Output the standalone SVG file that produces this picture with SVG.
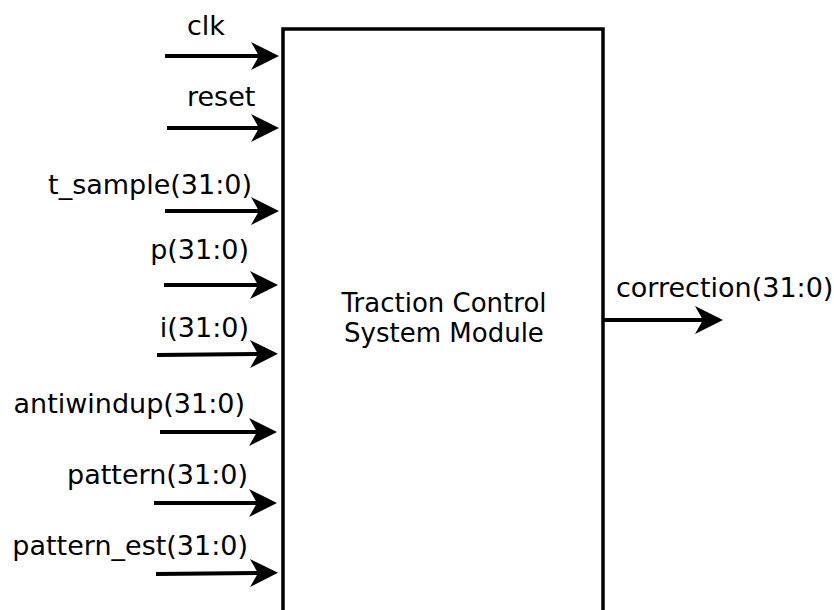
<svg xmlns="http://www.w3.org/2000/svg" width="834" height="610" viewBox="0 0 834 610">
  <style>
    .lbl { font-family: "DejaVu Sans", "Liberation Sans", sans-serif; font-size: 27px; fill: #000; }
    .title { font-family: "DejaVu Sans", "Liberation Sans", sans-serif; font-size: 26px; fill: #000; text-anchor: middle; }
    .wire { stroke: #000; stroke-width: 4; fill: none; marker-end: url(#head); }
    .box { fill: #fff; stroke: #000; stroke-width: 3.5; }
  </style>
  <defs>
    <!-- notched arrowhead; reference point sits on the notch so the wire ends there -->
    <marker id="head" markerUnits="userSpaceOnUse" markerWidth="30" markerHeight="30" refX="8" refY="14" orient="auto" overflow="visible">
      <path d="M0,0 L28,14 L0,28 L8,14 Z" fill="#000"/>
    </marker>
  </defs>
  <rect width="834" height="610" fill="#fff"/>

  <g id="module">
    <rect class="box" x="283" y="29" width="320" height="600"/>
    <text class="title" x="444" y="312">Traction Control</text>
    <text class="title" x="444" y="342">System Module</text>
  </g>

  <g id="connectors">
    <line class="wire" x1="165" y1="56" x2="259" y2="56"/>
    <line class="wire" x1="167" y1="128" x2="259" y2="128"/>
    <line class="wire" x1="165" y1="211" x2="259" y2="211"/>
    <line class="wire" x1="164" y1="285" x2="258" y2="285"/>
    <line class="wire" x1="157" y1="355" x2="258" y2="354"/>
    <line class="wire" x1="160" y1="432" x2="257" y2="432"/>
    <line class="wire" x1="154" y1="503" x2="257" y2="503"/>
    <line class="wire" x1="156" y1="574" x2="258" y2="573"/>
    <line class="wire" x1="603" y1="320" x2="703" y2="320"/>
  </g>

  <g id="port-clk"><text class="lbl" x="187" y="35">clk</text></g>
  <g id="port-reset"><text class="lbl" x="187" y="106">reset</text></g>
  <g id="port-t_sample"><text class="lbl" x="252" y="194" text-anchor="end">t_sample(31:0)</text></g>
  <g id="port-p"><text class="lbl" x="249" y="259" text-anchor="end">p(31:0)</text></g>
  <g id="port-i"><text class="lbl" x="249" y="337" text-anchor="end">i(31:0)</text></g>
  <g id="port-antiwindup"><text class="lbl" x="245" y="413" text-anchor="end">antiwindup(31:0)</text></g>
  <g id="port-pattern"><text class="lbl" x="248" y="484" text-anchor="end">pattern(31:0)</text></g>
  <g id="port-pattern_est"><text class="lbl" x="248" y="555" text-anchor="end">pattern_est(31:0)</text></g>
  <g id="port-correction"><text class="lbl" x="616" y="297">correction(31:0)</text></g>
</svg>
